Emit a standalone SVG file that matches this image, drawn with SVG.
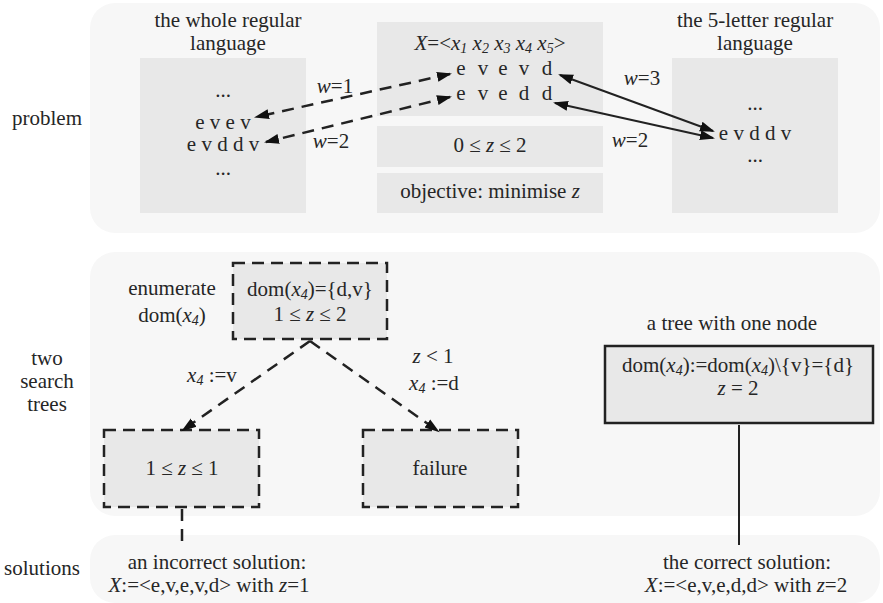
<svg xmlns="http://www.w3.org/2000/svg" width="883" height="603" viewBox="0 0 883 603">
<defs>
<style>
text{font-family:"Liberation Serif","Times New Roman",serif;font-size:21px;fill:#262626;text-anchor:middle}
.i{font-style:italic}
.s{font-size:14px;font-style:italic}
.panel{fill:#f7f7f7}
.box{fill:#e8e8e8}
.dbox{fill:#e8e8e8;stroke:#222;stroke-width:2.5;stroke-dasharray:12 7}
.sbox{fill:#e8e8e8;stroke:#222;stroke-width:2.5}
.dl{fill:none;stroke:#222;stroke-width:2.5;stroke-dasharray:12 8}
.sl{fill:none;stroke:#222;stroke-width:2}
</style>
<marker id="ah" markerUnits="userSpaceOnUse" markerWidth="16" markerHeight="12" refX="13" refY="5" orient="auto-start-reverse" viewBox="0 0 16 10">
<path d="M0,0 L15,5 L0,10 z" fill="#111"/>
</marker>
</defs>

<g id="panels">
<rect class="panel" x="90" y="3" width="790" height="230" rx="25"/>
<rect class="panel" x="90" y="252" width="790" height="264" rx="25"/>
<rect class="panel" x="90" y="535" width="790" height="68" rx="25"/>
</g>

<g id="row-labels">
<text x="47" y="125">problem</text>
<text x="47" y="365">two</text>
<text x="47" y="388">search</text>
<text x="47" y="411">trees</text>
<text x="42" y="575">solutions</text>
</g>

<g id="whole-language">
<text x="228" y="27">the whole regular</text>
<text x="228" y="50">language</text>
<rect class="box" x="140" y="58" width="166" height="155"/>
<text x="223" y="97">...</text>
<text x="223" y="129">e v e v</text>
<text x="223" y="151">e v d d v</text>
<text x="223" y="175">...</text>
</g>

<g id="variables">
<rect class="box" x="377" y="22" width="226" height="94"/>
<text x="490" y="50"><tspan class="i">X</tspan>=&lt;<tspan class="i">x</tspan><tspan class="s" dy="3">1</tspan><tspan dy="-3"> </tspan><tspan class="i">x</tspan><tspan class="s" dy="3">2</tspan><tspan dy="-3"> </tspan><tspan class="i">x</tspan><tspan class="s" dy="3">3</tspan><tspan dy="-3"> </tspan><tspan class="i">x</tspan><tspan class="s" dy="3">4</tspan><tspan dy="-3"> </tspan><tspan class="i">x</tspan><tspan class="s" dy="3">5</tspan><tspan dy="-3">&gt;</tspan></text>
<text x="461 483 503 524 547" y="75">evevd</text>
<text x="461 483 503 524 547" y="100">evedd</text>
</g>

<g id="bound">
<rect class="box" x="377" y="126" width="226" height="41"/>
<text x="490" y="152">0 ≤ <tspan class="i">z</tspan> ≤ 2</text>
</g>

<g id="objective">
<rect class="box" x="377" y="173" width="226" height="40"/>
<text x="490" y="198">objective: minimise <tspan class="i">z</tspan></text>
</g>

<g id="five-letter-language">
<text x="755" y="27">the 5-letter regular</text>
<text x="755" y="50">language</text>
<rect class="box" x="672" y="58" width="166" height="155"/>
<text x="755" y="110">...</text>
<text x="755" y="140">e v d d v</text>
<text x="755" y="162">...</text>
</g>

<g id="tree-root">
<text x="172" y="295">enumerate</text>
<text x="172" y="322">dom(<tspan class="i">x</tspan><tspan class="s" dy="3">4</tspan><tspan dy="-3">)</tspan></text>
<rect class="dbox" x="233" y="263" width="154" height="76"/>
<text x="310" y="296">dom(<tspan class="i">x</tspan><tspan class="s" dy="3">4</tspan><tspan dy="-3">)={d,v}</tspan></text>
<text x="310" y="321">1 ≤ <tspan class="i">z</tspan> ≤ 2</text>
</g>

<g id="tree-left">
<rect class="dbox" x="104" y="430" width="155" height="77"/>
<text x="182" y="475">1 ≤ <tspan class="i">z</tspan> ≤ 1</text>
</g>

<g id="tree-failure">
<rect class="dbox" x="363" y="430" width="155" height="77"/>
<text x="440" y="475">failure</text>
</g>

<g id="one-node-tree">
<text x="732" y="330">a tree with one node</text>
<rect class="sbox" x="605" y="346" width="268" height="77"/>
<text x="738" y="372">dom(<tspan class="i">x</tspan><tspan class="s" dy="3">4</tspan><tspan dy="-3">):=dom(</tspan><tspan class="i">x</tspan><tspan class="s" dy="3">4</tspan><tspan dy="-3">)\{v}={d}</tspan></text>
<text x="738" y="395"><tspan class="i">z</tspan> = 2</text>
</g>

<g id="solution-incorrect">
<text x="217" y="569">an incorrect solution:</text>
<text x="209" y="592"><tspan class="i">X</tspan>:=&lt;e,v,e,v,d&gt; with <tspan class="i">z</tspan>=1</text>
</g>

<g id="solution-correct">
<text x="747" y="569">the correct solution:</text>
<text x="746" y="592"><tspan class="i">X</tspan>:=&lt;e,v,e,d,d&gt; with <tspan class="i">z</tspan>=2</text>
</g>

<g id="connectors">
<line class="dl" x1="450" y1="74" x2="256" y2="117" marker-start="url(#ah)" marker-end="url(#ah)"/>
<line class="dl" x1="450" y1="97" x2="266" y2="142" marker-start="url(#ah)" marker-end="url(#ah)"/>
<line class="sl" x1="560" y1="75" x2="713" y2="131" marker-start="url(#ah)" marker-end="url(#ah)"/>
<line class="sl" x1="555" y1="103" x2="713" y2="138" marker-start="url(#ah)" marker-end="url(#ah)"/>
<line class="dl" x1="310" y1="341" x2="183" y2="430" marker-end="url(#ah)"/>
<line class="dl" x1="310" y1="341" x2="438" y2="431" marker-end="url(#ah)"/>
<line class="dl" x1="182" y1="509" x2="182" y2="548"/>
<line class="sl" x1="739" y1="425" x2="739" y2="545"/>
</g>

<g id="connector-labels">
<text x="335" y="93"><tspan class="i">w</tspan>=1</text>
<text x="331" y="148"><tspan class="i">w</tspan>=2</text>
<text x="642" y="85"><tspan class="i">w</tspan>=3</text>
<text x="630" y="147"><tspan class="i">w</tspan>=2</text>
<text x="212" y="382"><tspan class="i">x</tspan><tspan class="s" dy="3">4</tspan><tspan dy="-3"> :=v</tspan></text>
<text x="433" y="363"><tspan class="i">z</tspan> &lt; 1</text>
<text x="434" y="390"><tspan class="i">x</tspan><tspan class="s" dy="3">4</tspan><tspan dy="-3"> :=d</tspan></text>
</g>
</svg>
